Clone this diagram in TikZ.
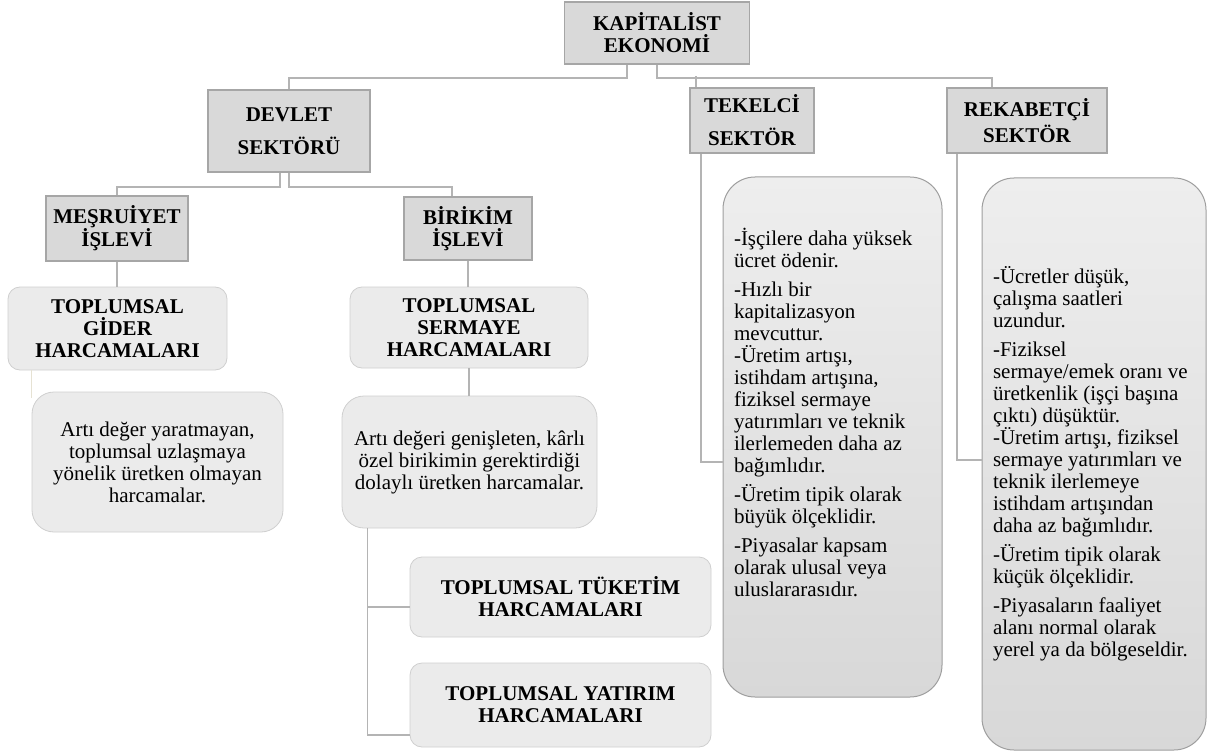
\documentclass[tikz,border=0pt]{standalone}
\usepackage{fontspec}
\setmainfont{Liberation Serif}
\definecolor{kegray}{HTML}{D9D9D9}
\definecolor{keedge}{HTML}{A6A6A6}
\definecolor{kelight}{HTML}{EBEBEB}
\definecolor{kesoft}{HTML}{CFCFCF}
\definecolor{keline}{HTML}{B4B4B4}
\definecolor{ketop}{HTML}{EEEEEE}
\definecolor{kebot}{HTML}{D8D8D8}
\definecolor{keframe}{HTML}{9E9E9E}
\definecolor{kecream}{HTML}{E6E2D3}

\begin{document}
\begin{tikzpicture}[x=1pt,y=-1pt]
        \tikzset{head/.style={draw=keedge,fill=kegray,line width=1.5pt,align=center,inner sep=0pt,font=\fontsize{21}{22}\selectfont\bfseries},
          spend/.style={draw=kesoft,fill=kelight,line width=.8pt,rounded corners=12pt,align=center,inner sep=0pt,font=\fontsize{21}{22}\selectfont\bfseries},
          note/.style={draw=kesoft,fill=kelight,line width=.8pt,rounded corners=22pt,align=center,inner sep=0pt,font=\fontsize{21}{22}\selectfont},
          trait/.style={draw=keframe,top color=ketop,bottom color=kebot,line width=1pt,rounded corners=32pt,align=flush left,inner xsep=11pt,inner ysep=0pt,font=\fontsize{21}{22}\selectfont},
          link/.style={draw=keline,line width=1.6pt}}
        \useasboundingbox (0,0) rectangle (1207,754);
        \node[head,minimum width=185pt,minimum height=62pt] (kapital) at (657,33) {KAPİTALİST\\EKONOMİ};
        \node[head,minimum width=162pt,minimum height=82pt] (devlet) at (289,131) {DEVLET\\[11pt]SEKTÖRÜ};
        \node[head,minimum width=124pt,minimum height=65pt] (tekelci) at (752,120.5) {TEKELCİ\\[11pt]SEKTÖR};
        \node[head,minimum width=160pt,minimum height=65pt] (rekabetci) at (1027,120.5) {REKABETÇİ\\[4pt]SEKTÖR};
        \node[head,minimum width=142pt,minimum height=65pt] (mesruiyet) at (117,228.5) {MEŞRUİYET\\İŞLEVİ};
        \node[head,minimum width=128pt,minimum height=63pt] (birikim) at (468,228.5) {BİRİKİM\\İŞLEVİ};
        \node[spend,minimum width=219pt,minimum height=83pt] (gider) at (117.5,328.5) {TOPLUMSAL\\GİDER\\HARCAMALARI};
        \node[spend,minimum width=238pt,minimum height=81pt] (sermaye) at (469,327.5) {TOPLUMSAL\\SERMAYE\\HARCAMALARI};
        \node[note,minimum width=251pt,minimum height=140pt] (giderNot) at (157.5,462) {Artı değer yaratmayan,\\toplumsal uzlaşmaya\\yönelik üretken olmayan\\harcamalar.};
        \node[note,minimum width=255pt,minimum height=132pt] (sermayeNot) at (469.5,462) {Artı değeri genişleten, kârlı\\özel birikimin gerektirdiği\\dolaylı üretken harcamalar.};
        \node[spend,minimum width=301pt,minimum height=80pt] (tuketim) at (560.5,597) {TOPLUMSAL TÜKETİM\\HARCAMALARI};
        \node[spend,minimum width=301pt,minimum height=84pt] (yatirim) at (560.5,705) {TOPLUMSAL YATIRIM\\HARCAMALARI};
        \node[trait,text width=197pt,minimum height=520pt] (tekelciNot) at (832.5,437) {-İşçilere daha yüksek\\ücret ödenir.\\[7pt]-Hızlı bir\\kapitalizasyon\\mevcuttur.\\-Üretim artışı,\\istihdam artışına,\\fiziksel sermaye\\yatırımları ve teknik\\ilerlemeden daha az\\bağımlıdır.\\[7pt]-Üretim tipik olarak\\büyük ölçeklidir.\\[7pt]-Piyasalar kapsam\\olarak ulusal veya\\uluslararasıdır.\\[28pt]\mbox{}};
        \node[trait,text width=202pt,minimum height=572pt] (rekabetciNot) at (1094,464) {-Ücretler düşük,\\çalışma saatleri\\uzundur.\\[7pt]-Fiziksel\\sermaye/emek oranı ve\\üretkenlik (işçi başına\\çıktı) düşüktür.\\-Üretim artışı, fiziksel\\sermaye yatırımları ve\\teknik ilerlemeye\\istihdam artışından\\daha az bağımlıdır.\\[7pt]-Üretim tipik olarak\\küçük ölçeklidir.\\[7pt]-Piyasaların faaliyet\\alanı normal olarak\\yerel ya da bölgeseldir.};
        \draw[link] ([xshift=-30pt]kapital.south) -- ++(0,13) -| (devlet.north);
        \draw[link] (kapital.south) -- ++(0,13) -| ([xshift=-35pt]rekabetci.north);
        \draw[link] ([xshift=-56pt]tekelci.north) -- ++(0,-11);
        \draw[link] ([xshift=-9pt]devlet.south) -- ++(0,14) -| (mesruiyet.north);
        \draw[link] (devlet.south) -- ++(0,14) -| ([xshift=-16pt]birikim.north);
        \draw[link] (mesruiyet.south) -- (mesruiyet.south |- gider.north);
        \draw[link,draw=kecream] ([xshift=-86pt]gider.south) -- ++(0,28);
        \draw[link] (birikim.south) -- (birikim.south |- sermaye.north);
        \draw[link] (sermaye.south) -- (sermaye.south |- sermayeNot.north);
        \draw[link] ([xshift=-102pt]sermayeNot.south) |- ([yshift=-10pt]tuketim.west);
        \draw[link] ([xshift=-102pt]sermayeNot.south) |- ([yshift=-30pt]yatirim.west);
        \draw[link] ([xshift=-51pt]tekelci.south) |- ([yshift=-25pt]tekelciNot.west);
        \draw[link] ([xshift=-70pt]rekabetci.south) |- ([yshift=4pt]rekabetciNot.west);
      \end{tikzpicture}
\end{document}
